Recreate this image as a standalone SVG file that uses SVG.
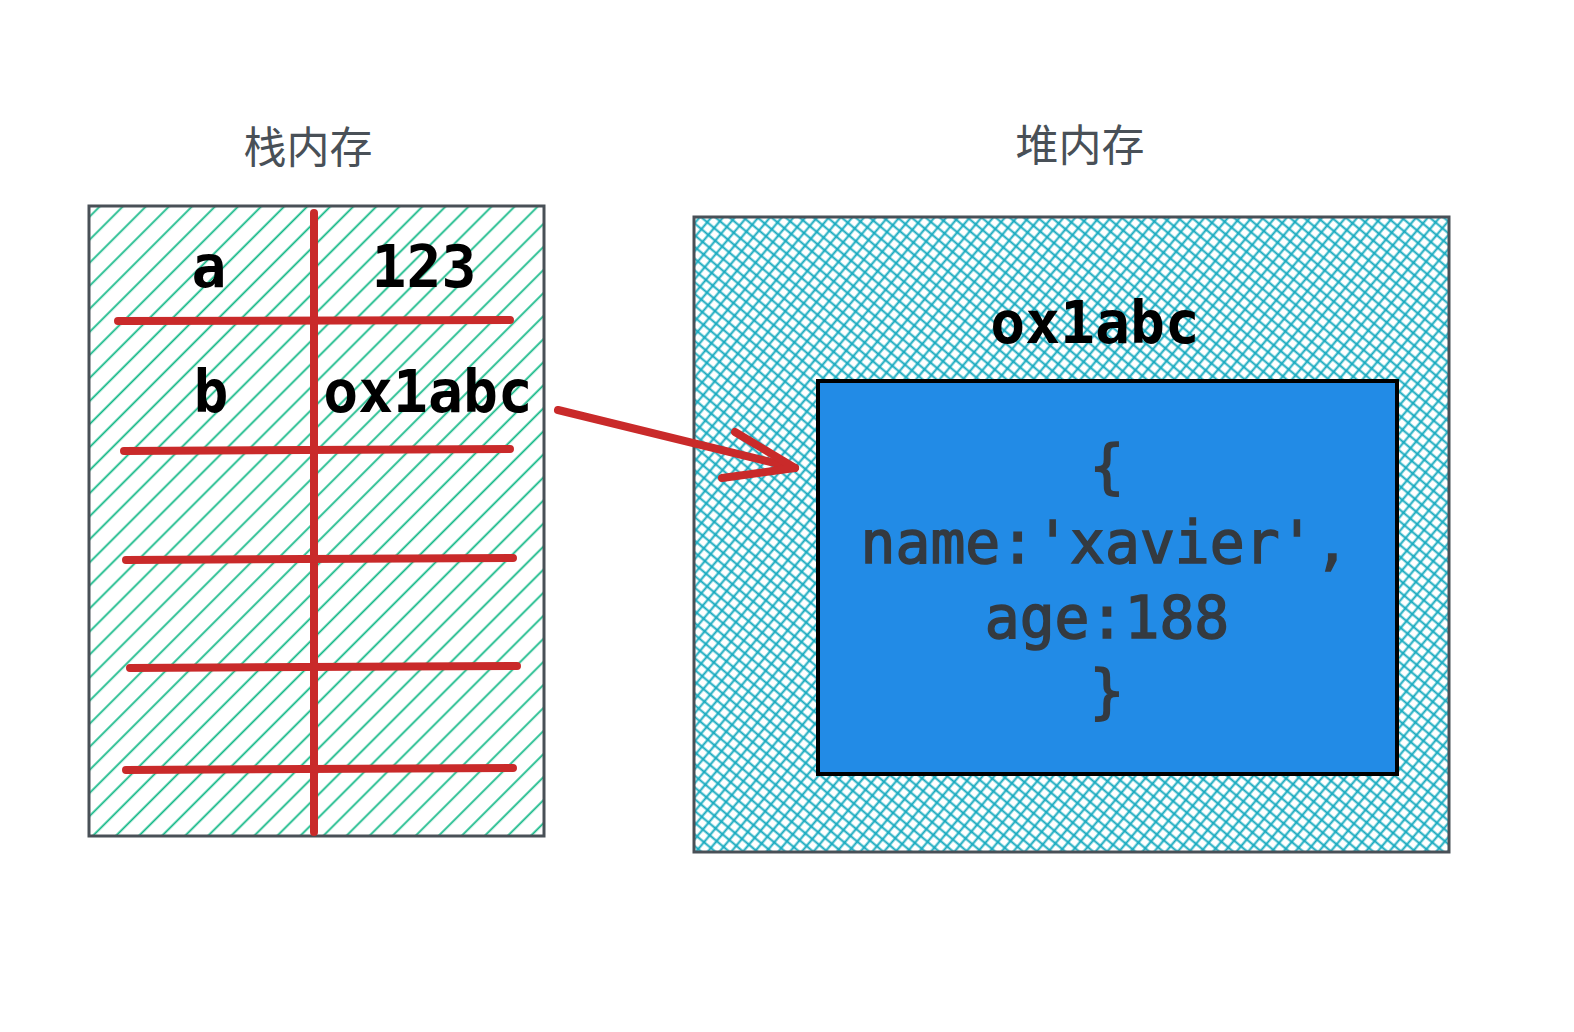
<svg xmlns="http://www.w3.org/2000/svg" width="1574" height="1032" viewBox="0 0 1574 1032">
  <defs>
    <pattern id="hatch" patternUnits="userSpaceOnUse" width="16.3" height="16.3" patternTransform="translate(89,206) rotate(45)">
      <line x1="8" y1="-2" x2="8" y2="18.3" stroke="#12b886" stroke-width="1.8"/>
    </pattern>
    <pattern id="cross" patternUnits="userSpaceOnUse" width="9" height="9" patternTransform="translate(694,217) rotate(40)">
      <line x1="4.5" y1="-1" x2="4.5" y2="10" stroke="#15aabf" stroke-width="2"/>
      <line x1="-1" y1="4.5" x2="10" y2="4.5" stroke="#15aabf" stroke-width="2"/>
    </pattern>
    <style>
      .title { font-family: "Noto Sans CJK SC", "Noto Sans", sans-serif; font-size: 43px; fill: #495057; text-anchor: middle; }
      .cell { font-family: "DejaVu Sans Mono", "Liberation Mono", monospace; font-size: 58px; font-weight: bold; fill: #000; text-anchor: middle; }
      .obj { font-family: "DejaVu Sans Mono", "Liberation Mono", monospace; font-size: 58px; fill: #343a40; stroke: #343a40; stroke-width: 1.6; text-anchor: middle; }
      .red { stroke: #c92a2a; stroke-width: 8; stroke-linecap: round; stroke-linejoin: round; fill: none; }
      .frame { stroke: #495057; stroke-width: 3; }
    </style>
  </defs>
  <rect width="1574" height="1032" fill="#ffffff"/>

  <g id="stack-title">
    <text class="title" x="308" y="163">栈内存</text>
  </g>
  <g id="heap-title">
    <text class="title" x="1080" y="161">堆内存</text>
  </g>

  <g id="stack">
    <rect class="frame" x="89" y="206" width="455" height="630" fill="url(#hatch)"/>
    <line class="red" x1="314" y1="213" x2="314" y2="832"/>
    <line class="red" x1="118" y1="321" x2="510" y2="320"/>
    <line class="red" x1="124" y1="451" x2="510" y2="449"/>
    <line class="red" x1="126" y1="560" x2="513" y2="558"/>
    <line class="red" x1="130" y1="668" x2="517" y2="666"/>
    <line class="red" x1="126" y1="770" x2="513" y2="768"/>
    <text class="cell" x="209" y="287">a</text>
    <text class="cell" x="424" y="287">123</text>
    <text class="cell" x="211" y="412">b</text>
    <text class="cell" x="428" y="412">ox1abc</text>
  </g>

  <g id="heap">
    <rect class="frame" x="694" y="217" width="755" height="635" fill="url(#cross)"/>
    <text class="cell" x="1095" y="343">ox1abc</text>
  </g>

  <g id="object">
    <rect x="818" y="381" width="579" height="393" fill="#228be6" stroke="#000" stroke-width="4"/>
    <text class="obj" x="1107" y="487">{</text>
    <text class="obj" x="1105" y="563">name:'xavier',</text>
    <text class="obj" x="1107" y="638">age:188</text>
    <text class="obj" x="1107" y="712">}</text>
  </g>

  <g id="connectors">
    <path class="red" d="M558,410 L795,468" stroke-width="10"/>
    <path class="red" d="M735,432 L795,468 L722,478" stroke-width="10"/>
  </g>
</svg>
